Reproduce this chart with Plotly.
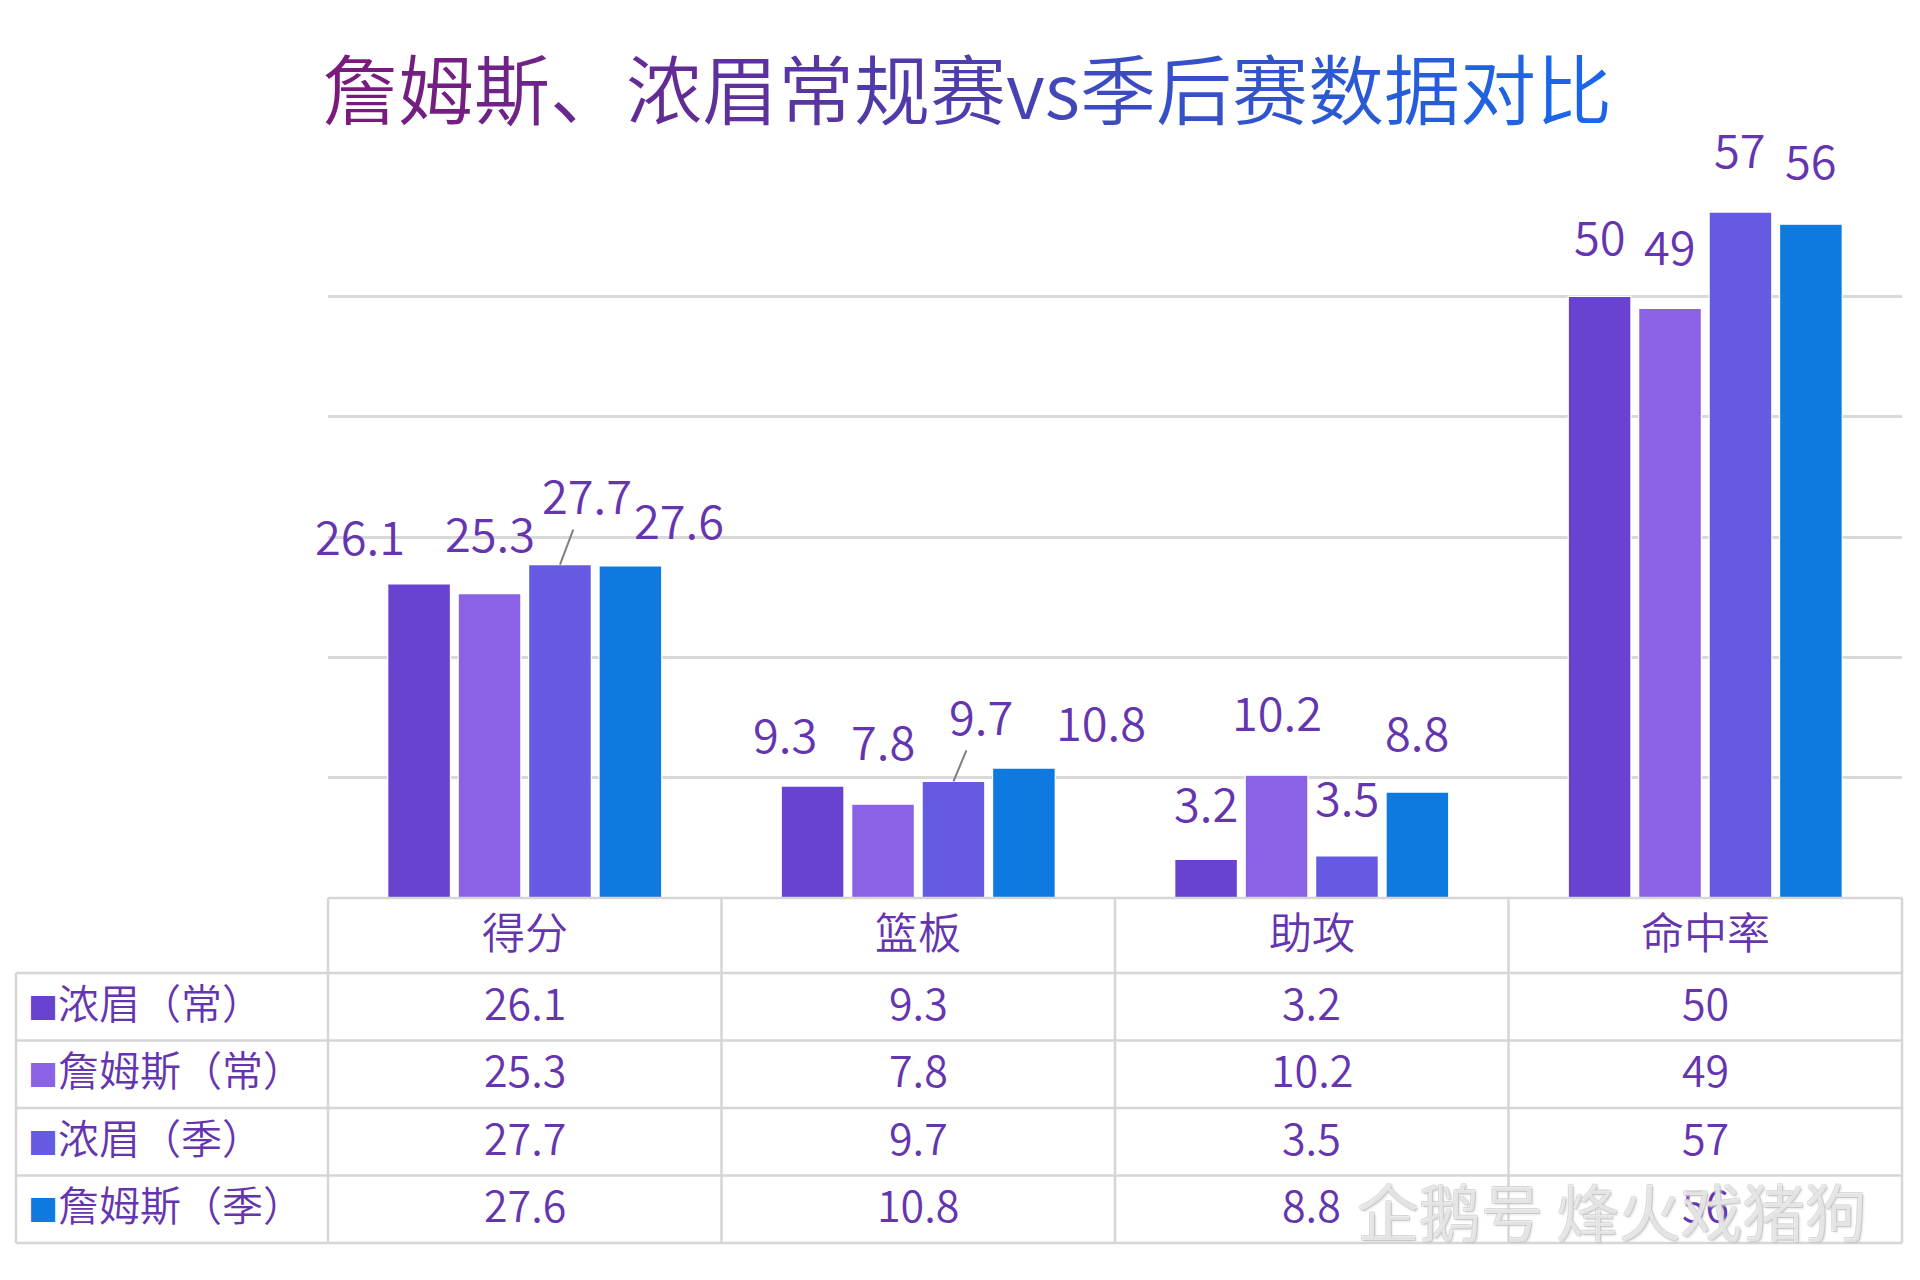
import plotly.graph_objects as go

# ---------------- data ----------------
categories = ["得分", "篮板", "助攻", "命中率"]
series_names = ["浓眉（常）", "詹姆斯（常）", "浓眉（季）", "詹姆斯（季）"]
ad_regular = [26.1, 9.3, 3.2, 50]
lbj_regular = [25.3, 7.8, 10.2, 49]
ad_playoff = [27.7, 9.7, 3.5, 57]
lbj_playoff = [27.6, 10.8, 8.8, 56]
series_values = [ad_regular, lbj_regular, ad_playoff, lbj_playoff]
title_text = "詹姆斯、浓眉常规赛vs季后赛数据对比"
watermark_text = "企鹅号 烽火戏猪狗"

# ---------------- style / layout ----------------
W, H = 1920, 1280
COLORS = ["#6843CF", "#8B62E5", "#655BE2", "#0E7AE0"]
TEXT_COLOR = "#6535B0"
FONT = "Noto Sans CJK SC, Noto Sans, sans-serif"
WEIGHT = 350
PLOT_L, PLOT_R = 328, 1902
PLOT_TOP, PLOT_BOTTOM = 176, 898
TABLE_LEFT = 16
HEADER_H = 75
ROW_H = 67.5
TEXT_LIFT = 6  # optical centring of CJK text inside table cells (px)
BARGAP = 0.284
BARGROUPGAP = 0.11
Y_MAX = 60
# label nudges in px: horizontal offset and height above bar top [category][series]
LABEL_DX = [[-59, 0, 27, 49], [-28, 0, 28, 77], [0, 0, 0, 0], [0, 0, 0, 0]]
LABEL_DY = [[49, 62, 71, 47], [54, 65, 67, 48], [58, 65, 60, 62], [62, 64, 65, 66]]
LEADERS = {(0, 2), (1, 2)}


def px_x(x):
    return x / W


def px_y(y):
    return 1 - y / H


def lerp(c1, c2, t):
    a = [int(c1[i:i + 2], 16) for i in (1, 3, 5)]
    b = [int(c2[i:i + 2], 16) for i in (1, 3, 5)]
    return "#" + "".join(f"{round(a[k] + (b[k] - a[k]) * t):02x}" for k in range(3))


fig = go.Figure()
for name, vals, col in zip(series_names, series_values, COLORS):
    fig.add_trace(go.Bar(
        name=name, x=categories, y=vals,
        marker=dict(color=col, line=dict(color="white", width=1.2)),
        showlegend=False, hoverinfo="x+y+name",
    ))

annotations = []
n = len(series_names)
gw = (1 - BARGAP) / n
for i, cat in enumerate(categories):
    for j in range(n):
        v = series_values[j][i]
        leader = (i, j) in LEADERS
        annotations.append(dict(
            x=i + (j - (n - 1) / 2) * gw, y=v, xref="x", yref="y",
            text=f"{v:g}", showarrow=True, arrowhead=0, arrowwidth=2,
            arrowcolor="#7f7f7f" if leader else "rgba(0,0,0,0)",
            standoff=0, ax=LABEL_DX[i][j], ay=-LABEL_DY[i][j],
            font=dict(family=FONT, size=47, color=TEXT_COLOR, weight=WEIGHT),
        ))

# title with left-to-right colour gradient
chars = list(title_text)
spans = []
for k, ch in enumerate(chars):
    c = lerp("#7A1A7C", "#1A66E6", k / (len(chars) - 1))
    spans.append(f"<span style='color:{c}'>{ch}</span>")
annotations.append(dict(
    x=px_x(967), y=px_y(86), xref="paper", yref="paper", showarrow=False,
    text="".join(spans), xanchor="center", yanchor="middle",
    font=dict(family=FONT, size=76, weight=WEIGHT),
))

# ---------------- data table ----------------
shapes = []
slot = (PLOT_R - PLOT_L) / len(categories)
col_edges = [PLOT_L + slot * k for k in range(len(categories) + 1)]
row_edges = [PLOT_BOTTOM + HEADER_H + ROW_H * r for r in range(len(series_names) + 1)]
LINE = dict(color="#d6d6d6", width=2.5)

shapes.append(dict(type="line", xref="paper", yref="paper",
                   x0=px_x(PLOT_L), x1=px_x(PLOT_R), y0=px_y(PLOT_BOTTOM), y1=px_y(PLOT_BOTTOM), line=LINE))
for ry in row_edges:
    shapes.append(dict(type="line", xref="paper", yref="paper",
                       x0=px_x(TABLE_LEFT), x1=px_x(PLOT_R), y0=px_y(ry), y1=px_y(ry), line=LINE))
shapes.append(dict(type="line", xref="paper", yref="paper",
                   x0=px_x(TABLE_LEFT), x1=px_x(TABLE_LEFT), y0=px_y(row_edges[0]), y1=px_y(row_edges[-1]), line=LINE))
for cx in col_edges:
    shapes.append(dict(type="line", xref="paper", yref="paper",
                       x0=px_x(cx), x1=px_x(cx), y0=px_y(PLOT_BOTTOM), y1=px_y(row_edges[-1]), line=LINE))

TABLE_FONT = dict(family=FONT, size=43, color=TEXT_COLOR, weight=WEIGHT)
LABEL_FONT = dict(family=FONT, size=41, color=TEXT_COLOR, weight=WEIGHT)
for i, cat in enumerate(categories):
    cx = (col_edges[i] + col_edges[i + 1]) / 2
    annotations.append(dict(x=px_x(cx), y=px_y(PLOT_BOTTOM + HEADER_H / 2 - TEXT_LIFT), xref="paper", yref="paper",
                            text=cat, showarrow=False, xanchor="center", yanchor="middle", font=TABLE_FONT))
    for j in range(n):
        cy = (row_edges[j] + row_edges[j + 1]) / 2 - TEXT_LIFT
        annotations.append(dict(x=px_x(cx), y=px_y(cy), xref="paper", yref="paper",
                                text=f"{series_values[j][i]:g}", showarrow=False,
                                xanchor="center", yanchor="middle", font=TABLE_FONT))
for j, name in enumerate(series_names):
    cy = (row_edges[j] + row_edges[j + 1]) / 2 - TEXT_LIFT
    annotations.append(dict(
        x=px_x(TABLE_LEFT + 10), y=px_y(cy), xref="paper", yref="paper",
        text=f"<span style='color:{COLORS[j]};font-size:30px'>■</span>{name}",
        showarrow=False, xanchor="left", yanchor="middle", font=LABEL_FONT))

# watermark
annotations.append(dict(
    x=px_x(1612), y=px_y(1210), xref="paper", yref="paper", text=watermark_text,
    showarrow=False, xanchor="center", yanchor="middle",
    font=dict(family=FONT, size=62, color="rgba(255,255,255,0.55)", weight=WEIGHT,
              shadow="1px 1px 0 #b8b8b8, -1px -1px 0 #cccccc, 1px -1px 0 #cccccc, -1px 1px 0 #cccccc, 2px 2px 2px #d4d4d4"),
))

fig.update_layout(
    width=W, height=H, autosize=False,
    margin=dict(l=0, r=0, t=0, b=0),
    paper_bgcolor="white", plot_bgcolor="white",
    barmode="group", bargap=BARGAP, bargroupgap=BARGROUPGAP,
    xaxis=dict(type="category", domain=[px_x(PLOT_L), px_x(PLOT_R)], range=[-0.5, len(categories) - 0.5],
               showticklabels=False, showgrid=False, zeroline=False, showline=False),
    yaxis=dict(domain=[px_y(PLOT_BOTTOM), px_y(PLOT_TOP)], range=[0, Y_MAX],
               tickvals=[10, 20, 30, 40, 50], showticklabels=False,
               showgrid=True, gridcolor="#d9d9d9", gridwidth=2.5, zeroline=False, showline=False),
    annotations=annotations, shapes=shapes,
    font=dict(family=FONT),
)

fig.write_html("out.html", config={"displayModeBar": False},
               post_script="document.body.style.margin='0';document.body.style.overflow='hidden';")
